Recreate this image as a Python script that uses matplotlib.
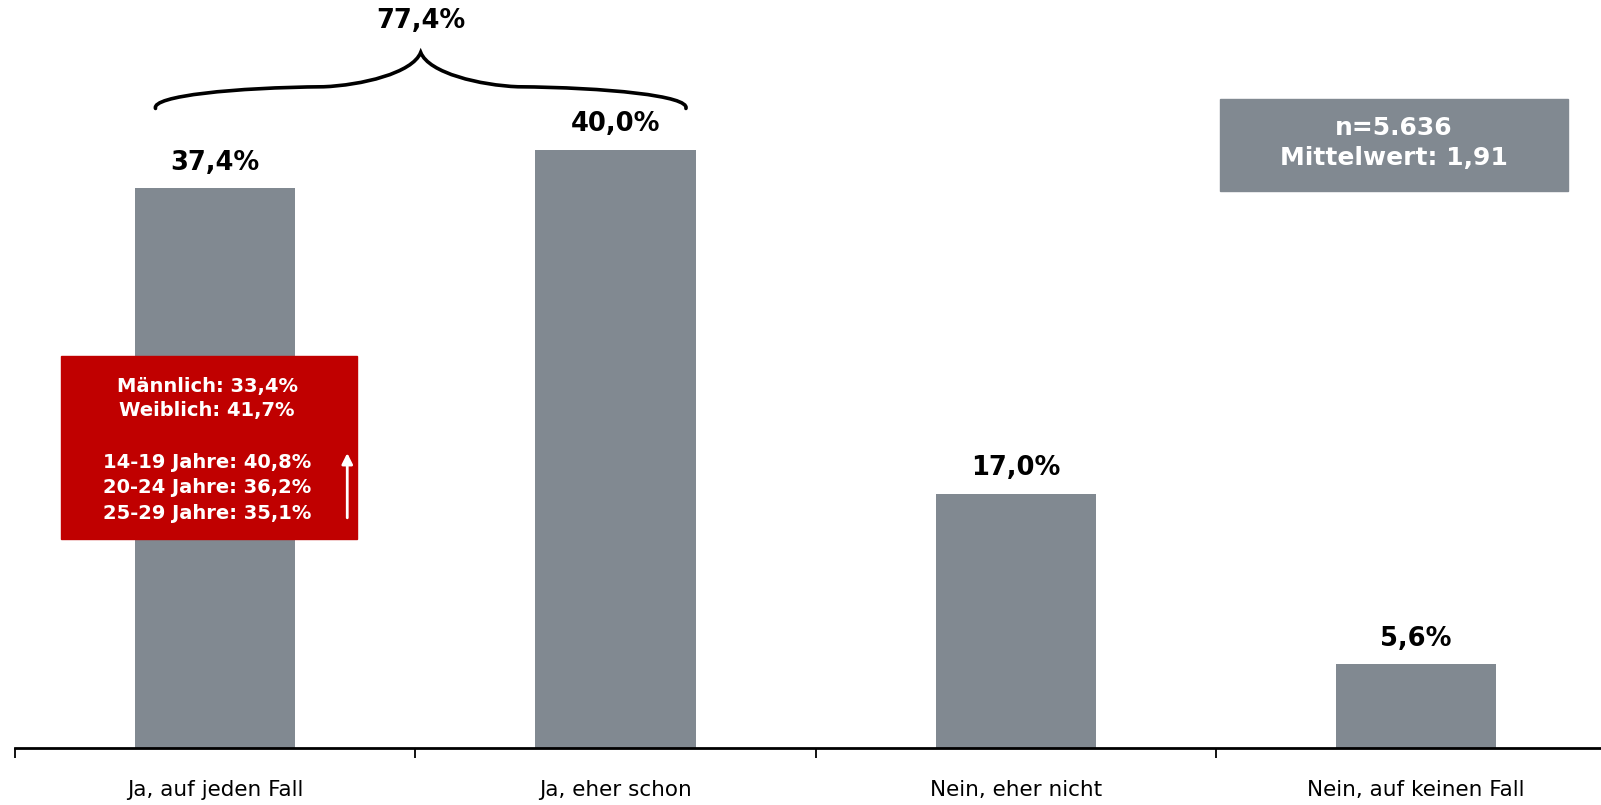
import matplotlib
matplotlib.use("Agg")
from matplotlib import pyplot as plt
from matplotlib.path import Path
from matplotlib.patches import PathPatch, Rectangle

# data
categories = ["Ja, auf jeden Fall", "Ja, eher schon", "Nein, eher nicht", "Nein, auf keinen Fall"]
values = [37.4, 40.0, 17.0, 5.6]
value_labels = ["37,4%", "40,0%", "17,0%", "5,6%"]
sum_label = "77,4%"
info_lines = ["n=5.636", "Mittelwert: 1,91"]
detail_lines = ["Männlich: 33,4%", "Weiblich: 41,7%", "",
                "14-19 Jahre: 40,8%", "20-24 Jahre: 36,2%", "25-29 Jahre: 35,1%"]

bar_color = "#818991"
red = "#C00000"

plt.rcParams['font.family'] = ['DejaVu Sans']

fig = plt.figure(figsize=(16.01, 8.05), dpi=100)
ax = fig.add_axes([15 / 1601, 57 / 805, 1 - 15 / 1601, 748 / 805])

x = list(range(len(categories)))
ax.bar(x, values, width=0.4, color=bar_color, zorder=2)

for xi, v, lab in zip(x, values, value_labels):
    ax.annotate(lab, (xi, v), xytext=(0, 18.5), textcoords="offset points",
                ha="center", va="center", fontsize=18.5, fontweight="bold", color="black")

ax.set_xlim(-0.5, 3.462)
ax.set_ylim(0, 50)

for s in ["top", "right", "left"]:
    ax.spines[s].set_visible(False)
ax.spines["bottom"].set_linewidth(2)
ax.set_yticks([])

# boundary ticks and centered labels
ax.set_xticks([-0.5, 0.5, 1.5, 2.5])
ax.set_xticklabels([])
ax.tick_params(axis="x", which="major", length=7, width=1.3, direction="out")
ax.set_xticks(x, minor=True)
ax.set_xticklabels(categories, minor=True, fontsize=15.5)
ax.tick_params(axis="x", which="minor", length=0, pad=23)

# brace over the first two bars
x0, x1 = -0.149, 1.176
xm = (x0 + x1) / 2
y_end = 42.75
y_flat = 44.2
y_tip = 46.5
# smoother brace: each half is two cubic curves with no straight stretch
verts = [
    (x0, y_end), (x0 - 0.01, y_flat - 0.6), (x0 + 0.2, y_flat - 0.05), (x0 + 0.42, y_flat),
    (xm - 0.15, y_flat + 0.1), (xm - 0.02, y_flat + 0.9), (xm, y_tip),
    (xm + 0.02, y_flat + 0.9), (xm + 0.15, y_flat + 0.1), (x1 - 0.42, y_flat),
    (x1 - 0.2, y_flat - 0.05), (x1 + 0.01, y_flat - 0.6), (x1, y_end),
]
codes = [Path.MOVETO] + [Path.CURVE4] * 12
ax.add_patch(PathPatch(Path(verts, codes), fill=False, lw=2.6, color="black",
                       capstyle="round", zorder=3))
ax.text(xm, 48.6, sum_label, ha="center", va="center", fontsize=18.5,
        fontweight="bold", color="black")

# info box
ax.add_patch(Rectangle((2.509, 37.26), 0.87, 6.15, color=bar_color, zorder=3))
ax.text(2.944, 41.44, info_lines[0], ha="center", va="center", fontsize=18,
        fontweight="bold", color="white", zorder=4)
ax.text(2.944, 39.43, info_lines[1], ha="center", va="center", fontsize=18,
        fontweight="bold", color="white", zorder=4)

# red detail box
ax.add_patch(Rectangle((-0.386, 13.98), 0.74, 12.22, color=red, zorder=3))
line_y = [24.15, 22.58, 0, 19.08, 17.43, 15.69]
for line, ly in zip(detail_lines, line_y):
    if line:
        ax.text(-0.02, ly, line, ha="center", va="center", fontsize=14,
                fontweight="bold", color="white", zorder=4)
ax.annotate("", xy=(0.33, 19.9), xytext=(0.33, 15.2),
            arrowprops=dict(arrowstyle="-|>", color="white", lw=2, mutation_scale=16),
            zorder=4)

fig.savefig("out.png", dpi=100)
